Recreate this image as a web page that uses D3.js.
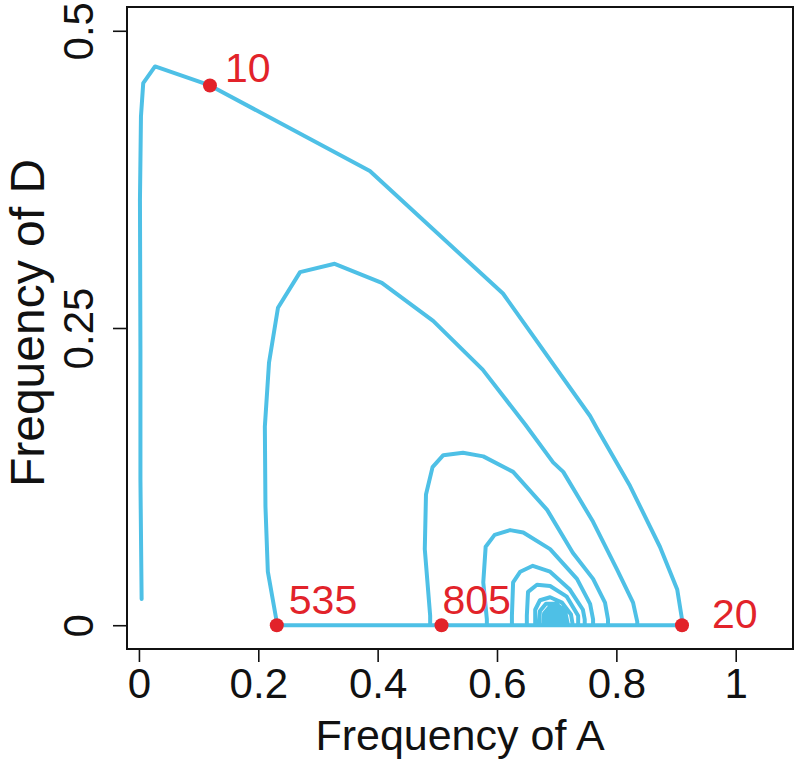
<!DOCTYPE html>
<html>
<head>
<meta charset="utf-8">
<script src="https://cdn.jsdelivr.net/npm/d3@7"></script>
<style>
  html, body { margin: 0; padding: 0; background: #fff; }
  svg { display: block; }
  text { font-family: "Liberation Sans", Arial, Helvetica, sans-serif; }
</style>
</head>
<body>
<svg id="chart" width="800" height="764"></svg>
<script>
// ---- data ----
const xTicks = [0, 0.2, 0.4, 0.6, 0.8, 1];
const xTickLabels = ["0", "0.2", "0.4", "0.6", "0.8", "1"];
const yTicks = [0, 0.25, 0.5];
const yTickLabels = ["0", "0.25", "0.5"];
const xTitle = "Frequency of A";
const yTitle = "Frequency of D";

// trajectory: frequency of A
const freqA = [
  0.0045, 0.0025, 0.0025, 0.0017, 0.0034, 0.0072, 0.027, 0.119, 0.387, 0.610,
  0.756, 0.768, 0.823, 0.873, 0.902, 0.910, 0.910,
  0.231, 0.231, 0.216, 0.212, 0.211, 0.218, 0.233, 0.270, 0.328, 0.407, 0.493,
  0.576, 0.647, 0.694, 0.711, 0.736, 0.761, 0.801, 0.828, 0.835, 0.835,
  0.488, 0.488, 0.479, 0.481, 0.492, 0.510, 0.543, 0.577, 0.627, 0.684, 0.727,
  0.761, 0.781, 0.786, 0.786,
  0.583, 0.583, 0.577, 0.581, 0.596, 0.622, 0.644, 0.689, 0.734, 0.756, 0.761, 0.761,
  0.625, 0.625, 0.627, 0.639, 0.660, 0.689, 0.722, 0.744, 0.747, 0.747,
  0.650, 0.650, 0.652, 0.667, 0.689, 0.717, 0.736, 0.736,
  0.664, 0.664, 0.672, 0.689, 0.709, 0.724, 0.727,
  0.670, 0.672, 0.682, 0.699, 0.714, 0.719,
  0.677, 0.679, 0.689, 0.702, 0.712, 0.714,
  0.682, 0.687, 0.699, 0.709, 0.707,
  0.686, 0.690, 0.700, 0.705, 0.700,
  0.689, 0.695, 0.702, 0.697, 0.694
];
// trajectory: frequency of D
const freqD = [
  0.022, 0.123, 0.232, 0.358, 0.428, 0.456, 0.470, 0.454, 0.382, 0.279,
  0.176, 0.165, 0.117, 0.066, 0.030, 0.005, 0.000,
  0.000, 0.0025, 0.045, 0.100, 0.167, 0.221, 0.267, 0.297, 0.304, 0.288, 0.256,
  0.215, 0.169, 0.137, 0.129, 0.108, 0.087, 0.047, 0.019, 0.003, 0.000,
  0.000, 0.008, 0.064, 0.110, 0.133, 0.143, 0.145, 0.142, 0.129, 0.097, 0.061,
  0.039, 0.019, 0.005, 0.000,
  0.000, 0.005, 0.036, 0.066, 0.076, 0.080, 0.078, 0.064, 0.039, 0.018, 0.005, 0.000,
  0.000, 0.008, 0.036, 0.045, 0.050, 0.045, 0.030, 0.013, 0.005, 0.000,
  0.000, 0.008, 0.028, 0.034, 0.033, 0.024, 0.008, 0.000,
  0.000, 0.013, 0.021, 0.0235, 0.019, 0.009, 0.000,
  0.000, 0.012, 0.018, 0.018, 0.012, 0.000,
  0.000, 0.010, 0.016, 0.015, 0.008, 0.000,
  0.003, 0.013, 0.014, 0.009, 0.002,
  0.005, 0.012, 0.013, 0.008, 0.003,
  0.007, 0.011, 0.008, 0.005, 0.009
];

// marked generations
const markGen = ["10", "20", "535", "805"];
const markA = [0.119, 0.910, 0.231, 0.507];
const markD = [0.454, 0.000, 0.000, 0.000];

// ---- drawing ----
const svg = d3.select("#chart");
const mLeft = 127, mRight = 793, mTop = 7, mBottom = 649;
const x = d3.scaleLinear().domain([-0.02, 1.096]).range([mLeft, mRight]);
const y = d3.scaleLinear().domain([-0.02, 0.52]).range([mBottom, mTop]);

const lineColor = "#4ec0e6";
const markColor = "#e2232a";

// trajectory
const pts = freqA.map((a, i) => [a, freqD[i]]);
const line = d3.line().x(d => x(d[0])).y(d => y(d[1])).curve(d3.curveLinear);
svg.append("path")
  .datum(pts)
  .attr("d", line)
  .attr("fill", "none")
  .attr("stroke", lineColor)
  .attr("stroke-width", 4)
  .attr("stroke-linejoin", "round")
  .attr("stroke-linecap", "round");

// marked points
const marks = markGen.map((g, i) => ({ g, a: markA[i], d: markD[i] }));
svg.append("g").selectAll("circle")
  .data(marks).enter().append("circle")
  .attr("cx", d => x(d.a))
  .attr("cy", d => y(d.d))
  .attr("r", 7)
  .attr("fill", markColor);

const labelOffset = { "10": [15, -3], "20": [30, 3], "535": [12, -11], "805": [1, -11] };
svg.append("g").selectAll("text")
  .data(marks).enter().append("text")
  .attr("x", d => x(d.a) + labelOffset[d.g][0])
  .attr("y", d => y(d.d) + labelOffset[d.g][1])
  .attr("fill", markColor)
  .attr("font-size", 41)
  .text(d => d.g);

// axes
const xAxis = d3.axisBottom(x).tickValues(xTicks).tickSize(13)
  .tickFormat((d, i) => xTickLabels[i]);
const gx = svg.append("g").attr("transform", `translate(0,${mBottom})`).call(xAxis);
gx.select(".domain").remove();
gx.selectAll(".tick line").attr("stroke", "#111").attr("stroke-width", 1.6);
gx.selectAll(".tick text")
  .attr("y", 49).attr("dy", null)
  .attr("font-size", 42).attr("fill", "#111")
  .attr("font-family", "'Liberation Sans', Arial, sans-serif");

const yAxis = d3.axisLeft(y).tickValues(yTicks).tickSize(14)
  .tickFormat((d, i) => yTickLabels[i]);
const gy = svg.append("g").attr("transform", `translate(${mLeft},0)`).call(yAxis);
gy.select(".domain").remove();
gy.selectAll(".tick line").attr("stroke", "#111").attr("stroke-width", 1.6);
gy.selectAll(".tick text")
  .attr("x", 0).attr("y", 0).attr("dy", null)
  .attr("text-anchor", "middle")
  .attr("transform", "translate(-34,0) rotate(-90)")
  .attr("font-size", 42).attr("fill", "#111")
  .attr("font-family", "'Liberation Sans', Arial, sans-serif");

// frame
svg.append("rect")
  .attr("x", mLeft).attr("y", mTop)
  .attr("width", mRight - mLeft).attr("height", mBottom - mTop)
  .attr("fill", "none").attr("stroke", "#111").attr("stroke-width", 2);

// titles
svg.append("text")
  .attr("x", (mLeft + mRight) / 2).attr("y", 750)
  .attr("text-anchor", "middle").attr("font-size", 43).attr("fill", "#111")
  .text(xTitle);
svg.append("text")
  .attr("transform", `translate(44,${(mTop + mBottom) / 2 - 5}) rotate(-90)`)
  .attr("text-anchor", "middle").attr("font-size", 48).attr("fill", "#111")
  .text(yTitle);
</script>
</body>
</html>
